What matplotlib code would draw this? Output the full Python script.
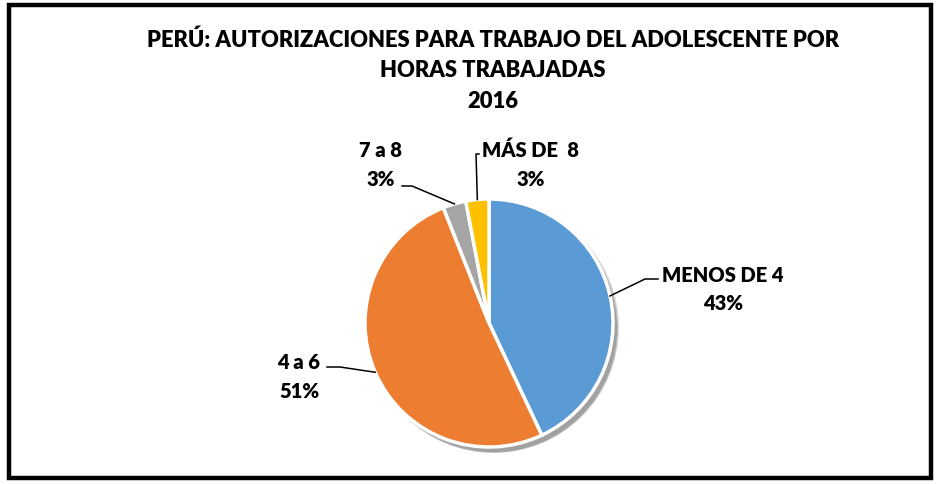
import numpy as np
import matplotlib
matplotlib.use("Agg")
import matplotlib.pyplot as plt
from matplotlib.patches import Circle, Rectangle

# =====================================================
# DADOS
# =====================================================

categorias = ["MENOS DE 4", "4 a 6", "7 a 8", "MÁS DE  8"]
valores = [43, 51, 3, 3]
rotulos_pct = ["43%", "51%", "3%", "3%"]
cores = ["#5B9BD5", "#ED7D31", "#A5A5A5", "#FFC000"]

titulo = "PERÚ: AUTORIZACIONES PARA TRABAJO DEL ADOLESCENTE POR\nHORAS TRABAJADAS\n2016"

# =====================================================
# FIGURA (coordenadas em pixels, y para cima)
# =====================================================

W, H = 937, 485
fig = plt.figure(figsize=(W / 100, H / 100), dpi=100)
ax = fig.add_axes([0, 0, 1, 1])
ax.set_xlim(0, W)
ax.set_ylim(0, H)
ax.set_aspect("equal")
ax.axis("off")

fonte = ["Lato", "DejaVu Sans"]
peso = 800

# borda
ax.add_patch(Rectangle((9, 6), 922, 473, fill=False, edgecolor="black",
                       linewidth=3.2, zorder=1))

# =====================================================
# PIZZA
# =====================================================

cx, cy, r = 489, H - 324, 124

# sombra
for i, a in enumerate([0.3, 0.4, 0.55]):
    ax.add_patch(Circle((cx + 4.5, cy - 4.5 - i * 0.6), r + 1.5 - i, color="#8c8c8c",
                        alpha=a, linewidth=0, zorder=2))

wedges, _ = ax.pie(
    valores,
    colors=cores,
    startangle=90,
    counterclock=False,
    center=(cx, cy),
    radius=r,
    wedgeprops=dict(edgecolor="white", linewidth=2.5, zorder=3),
    frame=True,
)
ax.set_xlim(0, W)
ax.set_ylim(0, H)
ax.axis("off")

# =====================================================
# RÓTULOS
# =====================================================

# (posição do texto, cotovelo da linha guia, ponta horizontal)
pos_texto = [(723, H - 289.5), (299, H - 377), (381, H - 165), (531, H - 165)]
cotovelo = [(658, H - 280), (340, H - 368), (412, H - 187), (476, H - 155)]
ponta = [(645, H - 280), (327, H - 368), (402, H - 187), (479, H - 155)]

for w, nome, pct, pt, cot, pon in zip(wedges, categorias, rotulos_pct,
                                      pos_texto, cotovelo, ponta):
    ang = np.deg2rad((w.theta1 + w.theta2) / 2)
    ax_x = cx + r * np.cos(ang)
    ax_y = cy + r * np.sin(ang)
    if nome == "MENOS DE 4":
        xs, ys = [ax_x, pon[0], cot[0]], [ax_y, pon[1], cot[1]]
    else:
        xs, ys = [ax_x, cot[0], pon[0]], [ax_y, cot[1], pon[1]]
    ax.plot(xs, ys, color="black", linewidth=1.1, zorder=4)
    ax.text(pt[0], pt[1], f"{nome}\n{pct}", ha="center", va="center",
            fontsize=14.5, fontweight=peso, family=fonte,
            linespacing=1.62, zorder=5)

# =====================================================
# TÍTULO
# =====================================================

ax.text(493, H - 70.5, titulo, ha="center", va="center", fontsize=15.8,
        fontweight=peso, family=fonte, linespacing=1.56)

fig.savefig("out.png", dpi=100)
